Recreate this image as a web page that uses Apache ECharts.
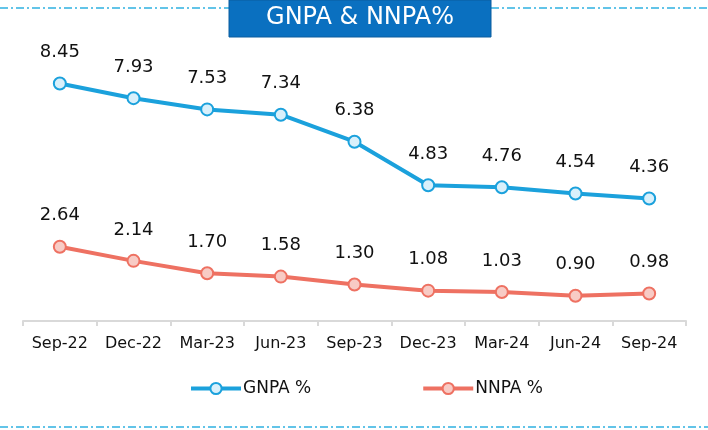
<!DOCTYPE html>
<html>
<head>
<meta charset="utf-8">
<script src="https://cdn.jsdelivr.net/npm/echarts@6/dist/echarts.min.js"></script>
<style>
  html, body { margin: 0; padding: 0; background: #fff; }
  #chart { width: 708px; height: 430px; }
</style>
</head>
<body>
<div id="chart"></div>
<script>
const categories = ['Sep-22', 'Dec-22', 'Mar-23', 'Jun-23', 'Sep-23', 'Dec-23', 'Mar-24', 'Jun-24', 'Sep-24']
const gnpa = [8.45, 7.93, 7.53, 7.34, 6.38, 4.83, 4.76, 4.54, 4.36]
const nnpa = [2.64, 2.14, 1.70, 1.58, 1.30, 1.08, 1.03, 0.90, 0.98]

const font = 'DejaVu Sans'
const chart = echarts.init(document.getElementById('chart'))

const lineSeries = (name, data, color, fill) => ({
  name: name,
  type: 'line',
  data: data,
  symbol: 'circle',
  symbolSize: 12,
  lineStyle: { width: 4, color: color },
  itemStyle: { color: fill, borderColor: color, borderWidth: 2 },
  label: {
    show: true,
    position: 'top',
    distance: 15,
    color: '#111',
    fontSize: 18,
    fontFamily: font,
    formatter: (p) => p.value.toFixed(2)
  },
  emphasis: { disabled: true }
})

chart.setOption({
  animation: false,
  grid: { left: 23, right: 22, top: 40, bottom: 109 },
  xAxis: {
    type: 'category',
    data: categories,
    axisLine: { lineStyle: { color: '#d9d9d9', width: 2 } },
    axisTick: { show: true, length: 5, lineStyle: { color: '#d9d9d9', width: 2 } },
    axisLabel: { color: '#111', fontSize: 16, fontFamily: font, margin: 15, interval: 0, hideOverlap: false }
  },
  yAxis: {
    type: 'value',
    min: 0,
    max: 10,
    show: false,
    splitLine: { show: false }
  },
  legend: {
    bottom: 28,
    left: 184,
    itemGap: 110,
    itemWidth: 50,
    itemHeight: 14,
    lineStyle: { width: 4 },
    textStyle: { color: '#111', fontSize: 17, fontFamily: font, padding: [0, 0, 0, -3] },
    data: ['GNPA %', 'NNPA %']
  },
  graphic: [
    {
      type: 'line', z: 1,
      shape: { x1: 0, y1: 8, x2: 229, y2: 8 },
      style: { stroke: '#62c4e8', lineWidth: 2, lineDash: [8, 3, 2, 3] }
    },
    {
      type: 'line', z: 1,
      shape: { x1: 491, y1: 8, x2: 708, y2: 8 },
      style: { stroke: '#62c4e8', lineWidth: 2, lineDash: [8, 3, 2, 3] }
    },
    {
      type: 'line', z: 1,
      shape: { x1: 0, y1: 427, x2: 708, y2: 427 },
      style: { stroke: '#62c4e8', lineWidth: 2, lineDash: [8, 3, 2, 3] }
    },
    {
      type: 'rect', z: 2,
      shape: { x: 229, y: 0, width: 262, height: 37 },
      style: { fill: '#0a70c0', stroke: '#0b5d9e', lineWidth: 1 }
    },
    {
      type: 'text', z: 3,
      x: 360, y: 18,
      style: {
        text: 'GNPA & NNPA%',
        fill: '#fff',
        fontSize: 24,
        fontFamily: font,
        align: 'center',
        verticalAlign: 'middle'
      }
    }
  ],
  series: [
    lineSeries('GNPA %', gnpa, '#1ba1dc', '#d9f0fb'),
    lineSeries('NNPA %', nnpa, '#ee7162', '#f8cbc5')
  ]
})

window.addEventListener('resize', function () {
  chart && chart.resize()
})
</script>
</body>
</html>
